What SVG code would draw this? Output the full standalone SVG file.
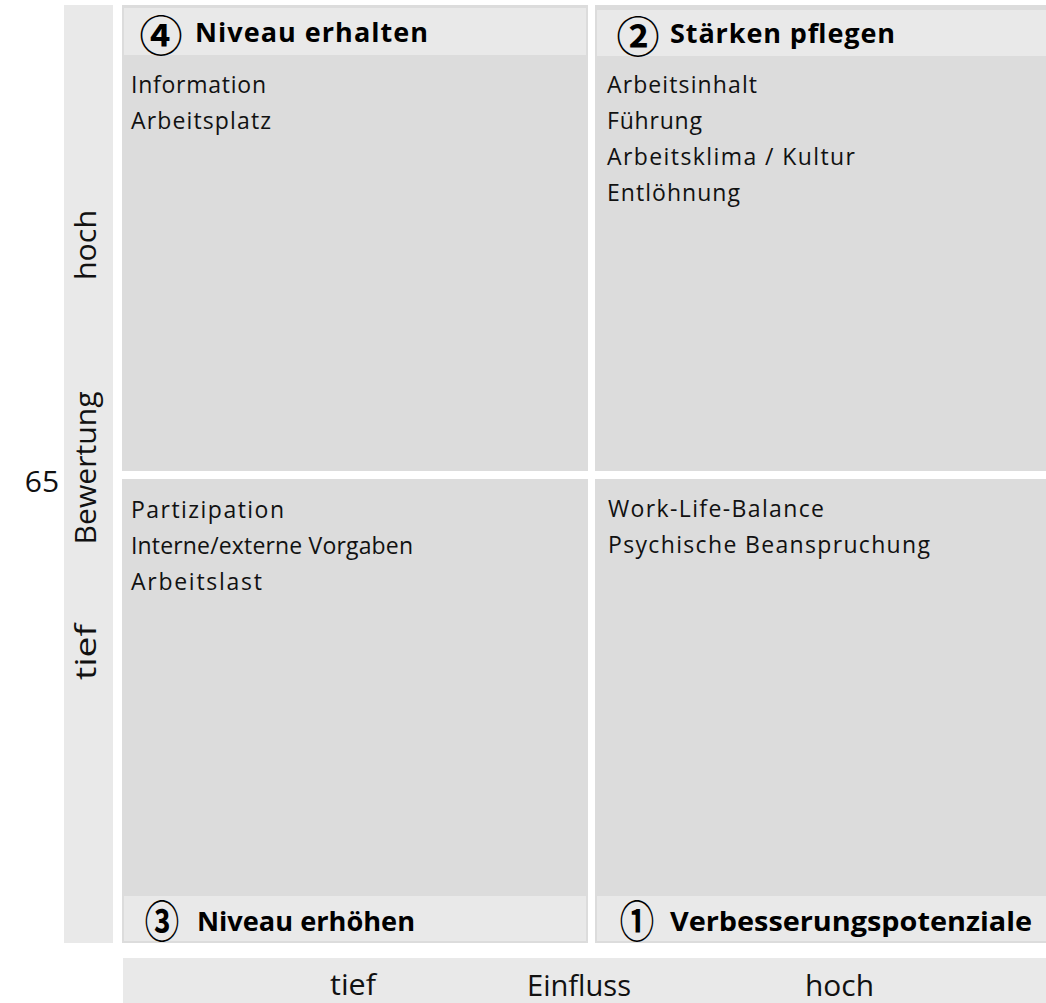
<svg xmlns="http://www.w3.org/2000/svg" width="1046" height="1003" viewBox="0 0 1046 1003">
<style>
.quad{fill:#dcdcdc}
.band{fill:#e9e9e9}
.item{font-family:"Open Sans","Noto Sans",sans-serif;font-size:23px;fill:#111}
.head{font-family:"Open Sans","Noto Sans",sans-serif;font-size:27px;font-weight:bold;fill:#000}
.num{font-family:"Noto Sans CJK JP","DejaVu Sans",sans-serif;font-size:43px;font-weight:bold;fill:#000}
.axis{font-family:"Open Sans","Noto Sans",sans-serif;font-size:30px;fill:#111}
.xaxis{font-family:"Open Sans","Noto Sans",sans-serif;font-size:29px;fill:#111}
</style>
<rect width="1046" height="1003" fill="#ffffff"/>

<g id="y-axis">
<rect class="band" x="64" y="5" width="49" height="938"/>
<text class="axis" transform="translate(96,245) rotate(-90)" text-anchor="middle" textLength="70" lengthAdjust="spacingAndGlyphs">hoch</text>
<text class="axis" transform="translate(96,468) rotate(-90)" text-anchor="middle" textLength="153" lengthAdjust="spacingAndGlyphs">Bewertung</text>
<text class="axis" transform="translate(96,652) rotate(-90)" text-anchor="middle" textLength="56" lengthAdjust="spacingAndGlyphs">tief</text>
</g>

<g id="value">
<text class="axis" x="42" y="492" text-anchor="middle" font-size="32">65</text>
</g>

<g id="q4">
<rect class="quad" x="122" y="5" width="466" height="466"/>
<rect class="band" x="124" y="8" width="462" height="47"/>
<text class="num" x="161" y="33" text-anchor="middle" dominant-baseline="central">④</text>
<text class="head" x="195" y="42" textLength="233">Niveau erhalten</text>
<text class="item" x="131" y="93" textLength="135">Information</text>
<text class="item" x="131" y="129" textLength="140">Arbeitsplatz</text>
</g>

<g id="q2">
<rect class="quad" x="595" y="5" width="451" height="466"/>
<rect class="band" x="597" y="10" width="449" height="46"/>
<text class="num" x="638" y="34" text-anchor="middle" dominant-baseline="central">②</text>
<text class="head" x="670" y="43" textLength="225">Stärken pflegen</text>
<text class="item" x="607" y="93" textLength="150">Arbeitsinhalt</text>
<text class="item" x="607" y="129" textLength="95">Führung</text>
<text class="item" x="607" y="165" textLength="248">Arbeitsklima / Kultur</text>
<text class="item" x="607" y="201" textLength="133">Entlöhnung</text>
</g>

<g id="q3">
<rect class="quad" x="122" y="479" width="466" height="464"/>
<rect class="band" x="124" y="896" width="462" height="45"/>
<text class="num" transform="translate(162,919) scale(0.8,1.02)" text-anchor="middle" dominant-baseline="central">③</text>
<text class="head" x="197" y="931" textLength="218" lengthAdjust="spacingAndGlyphs">Niveau erhöhen</text>
<text class="item" x="131" y="518" textLength="153">Partizipation</text>
<text class="item" x="131" y="554" textLength="282">Interne/externe Vorgaben</text>
<text class="item" x="131" y="590" textLength="131">Arbeitslast</text>
</g>

<g id="q1">
<rect class="quad" x="595" y="479" width="451" height="464"/>
<rect class="band" x="597" y="896" width="449" height="45"/>
<text class="num" transform="translate(637,919) scale(0.8,1.02)" text-anchor="middle" dominant-baseline="central">①</text>
<text class="head" x="670" y="931" textLength="362" lengthAdjust="spacingAndGlyphs">Verbesserungspotenziale</text>
<text class="item" x="608" y="517" textLength="216">Work-Life-Balance</text>
<text class="item" x="608" y="553" textLength="322">Psychische Beanspruchung</text>
</g>

<g id="x-axis">
<rect class="band" x="123" y="958" width="923" height="45"/>
<text class="xaxis" x="330" y="995" textLength="46" lengthAdjust="spacingAndGlyphs">tief</text>
<text class="xaxis" x="527" y="996" textLength="104" lengthAdjust="spacingAndGlyphs">Einfluss</text>
<text class="xaxis" x="805" y="996" textLength="69" lengthAdjust="spacingAndGlyphs">hoch</text>
</g>

<g id="connectors"></g>
</svg>
